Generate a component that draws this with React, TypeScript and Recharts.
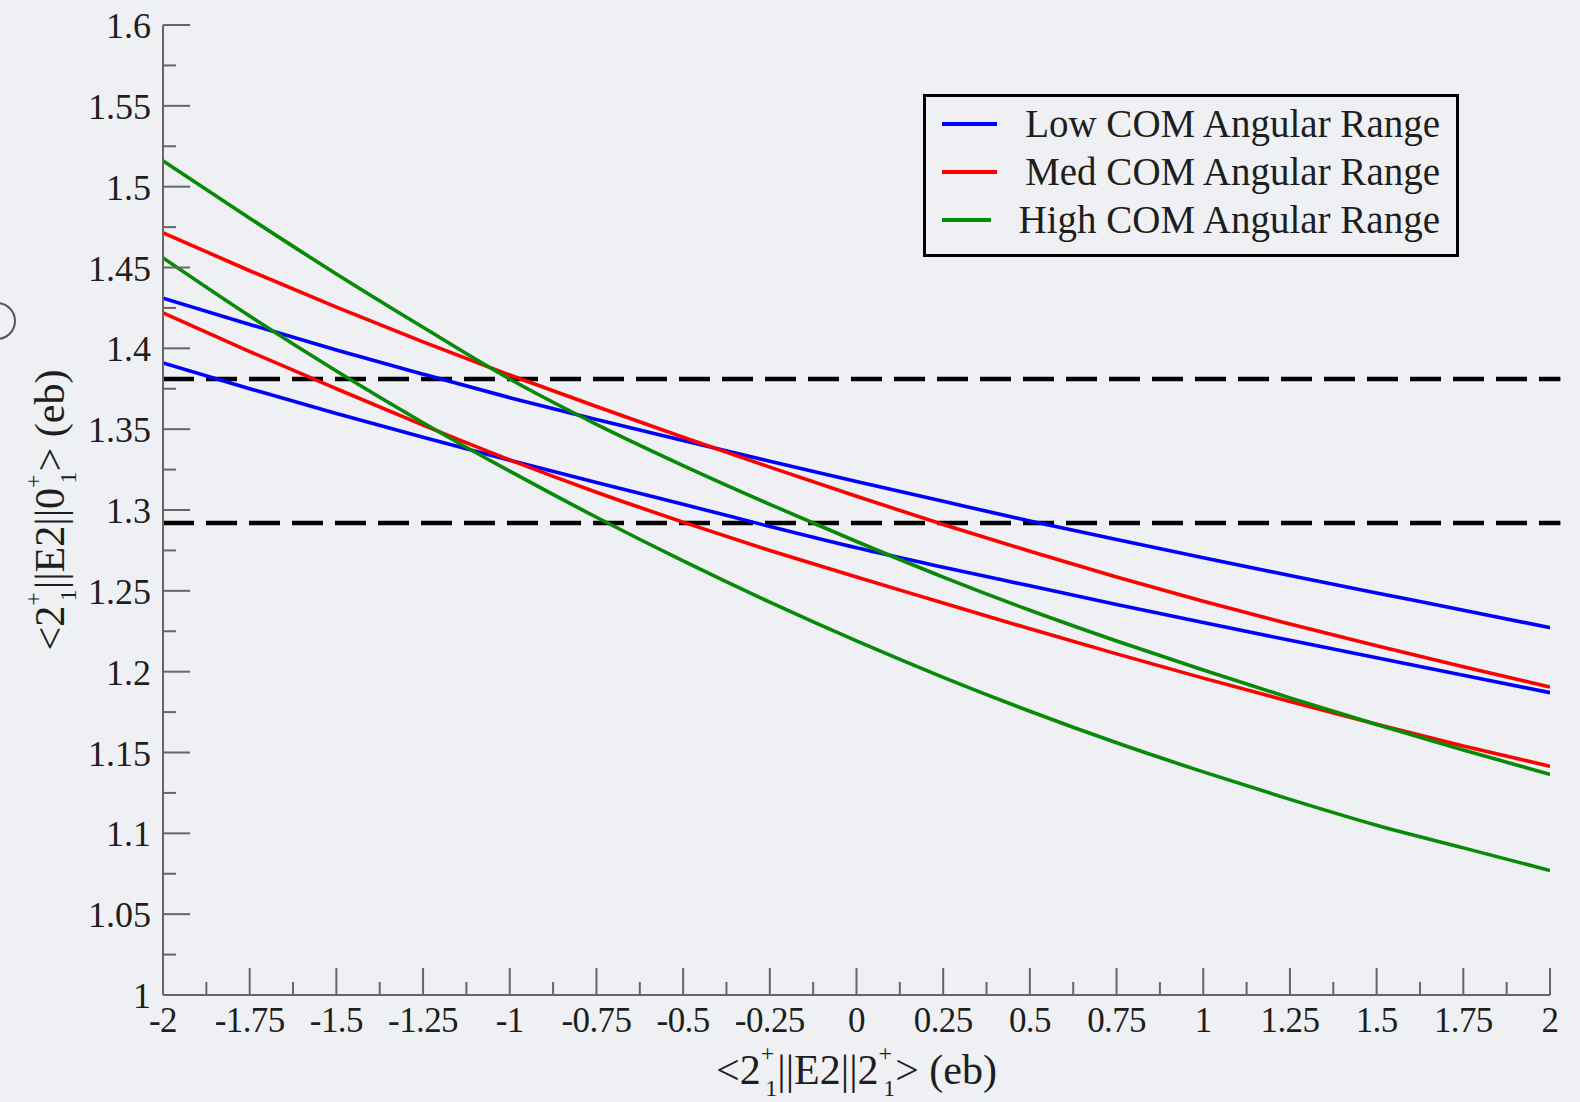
import React from 'react'
import { LineChart, Line, XAxis, YAxis, ReferenceLine, Legend } from 'recharts'

const BG = '#eff0f3'
const AXIS = '#666'
const INK = '#1e1e1e'
const FONT = '"Liberation Serif", "Times New Roman", serif'

// x grid of the curves, <2+||E2||2+> (eb)
const X_VALUES = [-2, -1.75, -1.5, -1.25, -1, -0.75, -0.5, -0.25, 0, 0.25, 0.5, 0.75, 1, 1.25, 1.5, 1.75, 2]

const LOW_UPPER = [1.431, 1.4148, 1.399, 1.384, 1.3695, 1.356, 1.343, 1.3302, 1.3177, 1.3054, 1.2932, 1.2817, 1.2705, 1.2595, 1.2487, 1.238, 1.2272]
const LOW_LOWER = [1.391, 1.375, 1.3597, 1.345, 1.3308, 1.317, 1.3035, 1.2898, 1.2766, 1.2646, 1.2531, 1.2416, 1.2304, 1.2194, 1.2086, 1.1978, 1.187]
const MED_UPPER = [1.4715, 1.448, 1.4255, 1.404, 1.3835, 1.364, 1.345, 1.3265, 1.3085, 1.291, 1.2745, 1.2585, 1.2435, 1.2295, 1.216, 1.203, 1.1905]
const MED_LOWER = [1.422, 1.398, 1.375, 1.3525, 1.331, 1.311, 1.2925, 1.275, 1.2585, 1.2425, 1.2265, 1.211, 1.196, 1.1815, 1.1675, 1.154, 1.1415]
const HIGH_UPPER = [1.516, 1.4805, 1.446, 1.413, 1.381, 1.353, 1.3275, 1.3035, 1.2805, 1.2585, 1.238, 1.219, 1.201, 1.1838, 1.1673, 1.1515, 1.1365]
const HIGH_LOWER = [1.456, 1.42, 1.386, 1.354, 1.324, 1.2955, 1.2685, 1.243, 1.219, 1.1965, 1.1755, 1.156, 1.138, 1.121, 1.105, 1.091, 1.077]

const DASHED_LEVELS = [1.381, 1.292]

const X_MAJOR = [-2, -1.75, -1.5, -1.25, -1, -0.75, -0.5, -0.25, 0, 0.25, 0.5, 0.75, 1, 1.25, 1.5, 1.75, 2]
const Y_MAJOR = [1, 1.05, 1.1, 1.15, 1.2, 1.25, 1.3, 1.35, 1.4, 1.45, 1.5, 1.55, 1.6]

const SERIES = [
  { name: 'Low COM Angular Range', color: '#0000ff', keys: ['lowUpper', 'lowLower'] },
  { name: 'Med COM Angular Range', color: '#ff0000', keys: ['medUpper', 'medLower'] },
  { name: 'High COM Angular Range', color: '#078a07', keys: ['highUpper', 'highLower'] },
]

const data = X_VALUES.map((x, i) => ({
  x,
  lowUpper: LOW_UPPER[i],
  lowLower: LOW_LOWER[i],
  medUpper: MED_UPPER[i],
  medLower: MED_LOWER[i],
  highUpper: HIGH_UPPER[i],
  highLower: HIGH_LOWER[i],
}))

// minor ticks half way between the labelled ones
const withMinor = (major: number[]) =>
  [...major, ...major.slice(1).map((v, i) => (v + major[i]) / 2)].sort((a, b) => a - b)

const X_TICKS = withMinor(X_MAJOR)
const Y_TICKS = withMinor(Y_MAJOR)

const isMajor = (list: number[], v: number) => list.some((m) => Math.abs(m - v) < 1e-9)
const fmt = (v: number) => String(Math.round(v * 100) / 100)

const MAJOR_LEN = 27
const MINOR_LEN = 13

function BottomTick(props: any) {
  const { x, y, payload } = props
  const major = isMajor(X_MAJOR, payload.value)
  return (
    <g>
      <line x1={x} x2={x} y1={y} y2={y - (major ? MAJOR_LEN : MINOR_LEN)} stroke={AXIS} strokeWidth={2} />
      {major && (
        <text
          x={x}
          y={y + 37}
          textAnchor="middle"
          fontFamily={FONT}
          fontSize={35}
          letterSpacing={-0.6}
          fill={INK}
        >
          {fmt(payload.value)}
        </text>
      )}
    </g>
  )
}

function TopTick(props: any) {
  const { x, y, payload } = props
  const major = isMajor(X_MAJOR, payload.value)
  return <line x1={x} x2={x} y1={y} y2={y + (major ? MAJOR_LEN : MINOR_LEN)} stroke={AXIS} strokeWidth={2} />
}

function LeftTick(props: any) {
  const { x, y, payload } = props
  const major = isMajor(Y_MAJOR, payload.value)
  return (
    <g>
      <line x1={x} x2={x + (major ? MAJOR_LEN : MINOR_LEN)} y1={y} y2={y} stroke={AXIS} strokeWidth={2} />
      {major && (
        <text x={x - 12} y={y + 13} textAnchor="end" fontFamily={FONT} fontSize={36} fill={INK}>
          {fmt(payload.value)}
        </text>
      )}
    </g>
  )
}

function RightTick(props: any) {
  const { x, y, payload } = props
  const major = isMajor(Y_MAJOR, payload.value)
  return <line x1={x} x2={x - (major ? MAJOR_LEN : MINOR_LEN)} y1={y} y2={y} stroke={AXIS} strokeWidth={2} />
}

// <2+_1||E2||J+_1> with stacked super/subscripts
function Bracket({ last }: { last: string }) {
  return (
    <>
      <tspan>{'<2'}</tspan>
      <tspan fontSize={24} dy={-23}>+</tspan>
      <tspan fontSize={24} dx={-9} dy={35}>1</tspan>
      <tspan dy={-12}>{'||E2||' + last}</tspan>
      <tspan fontSize={24} dy={-23}>+</tspan>
      <tspan fontSize={24} dx={-9} dy={35}>1</tspan>
      <tspan dy={-12}>{'> (eb)'}</tspan>
    </>
  )
}

function XTitle(props: any) {
  const { viewBox } = props
  const cx = viewBox.x + viewBox.width / 2
  return (
    <text x={cx} y={viewBox.y + 89} textAnchor="middle" fontFamily={FONT} fontSize={42} fill={INK}>
      <Bracket last="2" />
    </text>
  )
}

function YTitle(props: any) {
  const { viewBox } = props
  const cy = viewBox.y + viewBox.height / 2
  const bx = 64
  return (
    <text
      x={bx}
      y={cy}
      transform={`rotate(-90 ${bx} ${cy})`}
      textAnchor="middle"
      fontFamily={FONT}
      fontSize={42}
      fill={INK}
    >
      <Bracket last="0" />
    </text>
  )
}

function LegendBox() {
  return (
    <div
      style={{
        boxSizing: 'border-box',
        width: 536,
        border: '3px solid #000',
        background: BG,
        padding: '3px 16px 10px 16px',
        fontFamily: FONT,
        fontSize: 39,
        color: INK,
      }}
    >
      {SERIES.map((s) => (
        <div key={s.name} style={{ display: 'flex', alignItems: 'center', height: 48, whiteSpace: 'nowrap' }}>
          <span style={{ display: 'inline-block', width: 56, height: 3.5, background: s.color, marginRight: 28 }} />
          <span style={{ lineHeight: '48px' }}>{s.name}</span>
        </div>
      ))}
    </div>
  )
}

export default function App() {
  return (
    <div
      style={{
        position: 'absolute',
        left: 0,
        top: 0,
        width: 1580,
        height: 1102,
        background: BG,
        overflow: 'hidden',
      }}
    >
      <div
        style={{
          position: 'absolute',
          left: -22,
          top: 302,
          width: 38,
          height: 38,
          boxSizing: 'border-box',
          border: '2.5px solid #555',
          borderRadius: '50%',
        }}
      />
      <LineChart width={1580} height={1102} data={data} margin={{ top: 25, right: 30, bottom: 0, left: 0 }}>
        <XAxis
          xAxisId="b"
          dataKey="x"
          type="number"
          domain={[-2, 2]}
          allowDataOverflow
          ticks={X_TICKS}
          interval={0}
          tickSize={0}
          tickMargin={0}
          tickLine={false}
          tick={<BottomTick />}
          axisLine={{ stroke: AXIS, strokeWidth: 2 }}
          height={107}
          label={<XTitle />}
        />
        <XAxis
          xAxisId="t"
          orientation="top"
          type="number"
          domain={[-2, 2]}
          allowDataOverflow
          ticks={X_TICKS}
          interval={0}
          tickSize={0}
          tickMargin={0}
          tickLine={false}
          tick={<TopTick />}
          axisLine={{ stroke: AXIS, strokeWidth: 2 }}
          height={0}
        />
        <YAxis
          yAxisId="l"
          type="number"
          domain={[1, 1.6]}
          allowDataOverflow
          ticks={Y_TICKS}
          interval={0}
          tickSize={0}
          tickMargin={0}
          tickLine={false}
          tick={<LeftTick />}
          axisLine={{ stroke: AXIS, strokeWidth: 2 }}
          width={163}
          label={<YTitle />}
        />
        <YAxis
          yAxisId="r"
          orientation="right"
          type="number"
          domain={[1, 1.6]}
          allowDataOverflow
          ticks={Y_TICKS}
          interval={0}
          tickSize={0}
          tickMargin={0}
          tickLine={false}
          tick={<RightTick />}
          axisLine={{ stroke: AXIS, strokeWidth: 2 }}
          width={0}
        />
        {DASHED_LEVELS.map((lvl) => (
          <ReferenceLine
            key={lvl}
            xAxisId="b"
            yAxisId="l"
            segment={[
              { x: -2, y: lvl },
              { x: 2.03, y: lvl },
            ]}
            ifOverflow="visible"
            stroke="#000"
            strokeWidth={4.5}
            strokeDasharray="31 12"
          />
        ))}
        {SERIES.flatMap((s) =>
          s.keys.map((k) => (
            <Line
              key={k}
              xAxisId="b"
              yAxisId="l"
              type="monotone"
              dataKey={k}
              stroke={s.color}
              strokeWidth={3.6}
              dot={false}
              activeDot={false}
              isAnimationActive={false}
            />
          ))
        )}
        <Legend
          layout="vertical"
          align="center"
          verticalAlign="middle"
          content={<LegendBox />}
          wrapperStyle={{ left: 923, top: 94, width: 536 }}
        />
      </LineChart>
    </div>
  )
}
